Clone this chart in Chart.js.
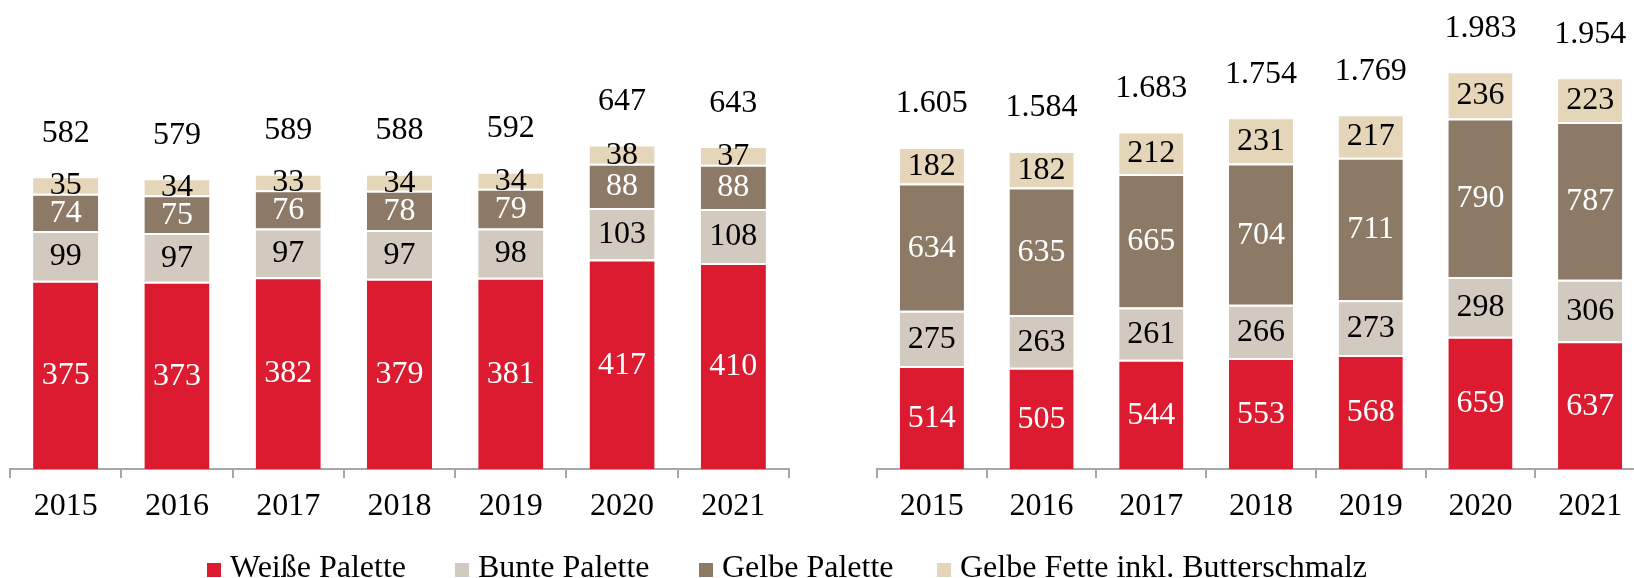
<!DOCTYPE html>
<html><head><meta charset="utf-8">
<script src="https://cdn.jsdelivr.net/npm/chart.js@4/dist/chart.umd.min.js"></script>
<style>
html,body{margin:0;padding:0;background:#fff;overflow:hidden;width:1634px;height:578px;position:relative;}
#c1{position:absolute;left:6px;top:0;}
#c2{position:absolute;left:873px;top:0;}
.lg{position:absolute;top:550px;height:32px;line-height:32px;font-family:"Liberation Serif",serif;font-size:32px;color:#000;white-space:nowrap;}
.lg i{display:inline-block;width:14px;height:14px;margin-right:9px;vertical-align:0px;}
</style>
</head><body>
<canvas id="c1" width="787" height="578"></canvas>
<canvas id="c2" width="776" height="578"></canvas>
<div class="lg" style="left:207px"><i style="background:#DC1B30"></i>Weiße Palette</div>
<div class="lg" style="left:455px"><i style="background:#D2C9BF"></i>Bunte Palette</div>
<div class="lg" style="left:699px"><i style="background:#8C7A66"></i>Gelbe Palette</div>
<div class="lg" style="left:937px"><i style="background:#E5D5B9"></i>Gelbe Fette inkl. Butterschmalz</div>
<script>
const years = ['2015','2016','2017','2018','2019','2020','2021'];
const seriesNames = ['Weiße Palette','Bunte Palette','Gelbe Palette','Gelbe Fette inkl. Butterschmalz'];

const leftWeisse = [375,373,382,379,381,417,410];
const leftBunte  = [99,97,97,97,98,103,108];
const leftGelbe  = [74,75,76,78,79,88,88];
const leftFette  = [35,34,33,34,34,38,37];
const leftTotals = ['582','579','589','588','592','647','643'];

const rightWeisse = [514,505,544,553,568,659,637];
const rightBunte  = [275,263,261,266,273,298,306];
const rightGelbe  = [634,635,665,704,711,790,787];
const rightFette  = [182,182,212,231,217,236,223];
const rightTotals = ['1.605','1.584','1.683','1.754','1.769','1.983','1.954'];

const colors = ['#DC1B30','#D2C9BF','#8C7A66','#E5D5B9'];
const labelColors = ['#ffffff','#000000','#ffffff','#000000'];
const FONT = '"Liberation Serif", serif';

const labelPlugin = {
  id: 'vals',
  afterDatasetsDraw(chart, args, opts) {
    const ctx = chart.ctx;
    ctx.save();
    ctx.font = '32px ' + FONT;
    ctx.textAlign = 'center';
    ctx.textBaseline = 'middle';
    chart.data.datasets.forEach((ds, i) => {
      const meta = chart.getDatasetMeta(i);
      meta.data.forEach((bar, j) => {
        const p = bar.getProps(['x','y','base'], true);
        ctx.fillStyle = labelColors[i];
        ctx.fillText(String(ds.data[j]), p.x, (p.y + p.base) / 2 + 1);
      });
    });
    const topMeta = chart.getDatasetMeta(chart.data.datasets.length - 1);
    topMeta.data.forEach((bar, j) => {
      ctx.fillStyle = '#000';
      ctx.fillText(opts.totals[j], bar.x, bar.y - 43);
    });
    ctx.restore();
  }
};

function makeChart(id, arrays, totals, yMax) {
  return new Chart(document.getElementById(id), {
    type: 'bar',
    data: {
      labels: years,
      datasets: arrays.map((arr, i) => ({
        label: seriesNames[i],
        data: arr,
        backgroundColor: colors[i],
        borderColor: '#ffffff',
        borderWidth: {top: 2, left: 0, right: 0, bottom: 0},
        borderSkipped: false,
        barPercentage: 0.585,
        categoryPercentage: 1.0
      }))
    },
    options: {
      responsive: false,
      animation: false,
      devicePixelRatio: 1,
      layout: {padding: {left: 4, right: 4, top: 0, bottom: 0}},
      plugins: {legend: {display: false}, tooltip: {enabled: false}, vals: {totals: totals}},
      scales: {
        x: {
          stacked: true,
          offset: true,
          grid: {display: true, offset: true, drawOnChartArea: false, drawTicks: true, tickLength: 9, color: '#A6A6A6', lineWidth: 2},
          border: {display: true, color: '#A6A6A6', width: 2},
          ticks: {color: '#000', font: {family: FONT, size: 32}, padding: 9, maxRotation: 0},
          afterFit(scale) { scale.height = 578 - 469; }
        },
        y: {stacked: true, display: false, min: 0, max: yMax}
      }
    },
    plugins: [labelPlugin]
  });
}

makeChart('c1', [leftWeisse, leftBunte, leftGelbe, leftFette], leftTotals, 934);
makeChart('c2', [rightWeisse, rightBunte, rightGelbe, rightFette], rightTotals, 2338);
</script>
</body></html>
